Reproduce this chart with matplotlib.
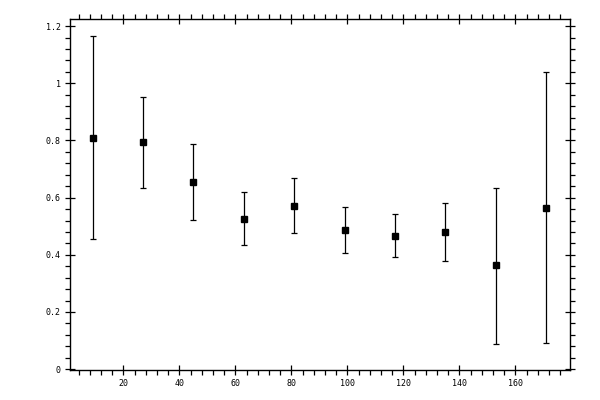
import matplotlib
matplotlib.use("Agg")
import matplotlib.pyplot as plt
from matplotlib.ticker import MultipleLocator, FormatStrFormatter, FuncFormatter

# bin centres and measured values with lower/upper error bounds
x = [9, 27, 45, 63, 81, 99, 117, 135, 153, 171]
y = [0.810, 0.796, 0.656, 0.527, 0.572, 0.488, 0.467, 0.481, 0.363, 0.565]
y_low = [0.457, 0.635, 0.523, 0.434, 0.478, 0.408, 0.394, 0.380, 0.087, 0.093]
y_high = [1.167, 0.953, 0.789, 0.618, 0.670, 0.569, 0.544, 0.583, 0.635, 1.041]

err = [[v - lo for v, lo in zip(y, y_low)], [hi - v for v, hi in zip(y, y_high)]]

fig = plt.figure(figsize=(6, 4), dpi=100)
ax = fig.add_axes([0.116, 0.075, 0.834, 0.8775])

ax.errorbar(x, y, yerr=err, fmt='s', color='black', ecolor='black',
            markersize=5, elinewidth=0.9, capsize=2.2, capthick=0.9)

ax.set_xlim(0.8, 179.5)
ax.set_ylim(-0.003, 1.225)

ax.xaxis.set_major_locator(MultipleLocator(20))
ax.xaxis.set_minor_locator(MultipleLocator(4))
ax.yaxis.set_major_locator(MultipleLocator(0.2))
ax.yaxis.set_minor_locator(MultipleLocator(0.04))
ax.yaxis.set_major_formatter(FuncFormatter(lambda v, p: '%g' % round(v, 2)))
ax.xaxis.set_major_formatter(FuncFormatter(lambda v, p: '' if v <= 0 else '%g' % v))

ax.tick_params(which='major', direction='inout', length=7, width=0.9,
               top=True, right=True, labelsize=6, pad=3)
ax.tick_params(which='minor', direction='out', length=3.5, width=0.9,
               top=True, right=True)
for lab in ax.get_xticklabels() + ax.get_yticklabels():
    lab.set_family('DejaVu Sans Mono')

for s in ax.spines.values():
    s.set_linewidth(1.0)

fig.savefig('out.png', dpi=100)
